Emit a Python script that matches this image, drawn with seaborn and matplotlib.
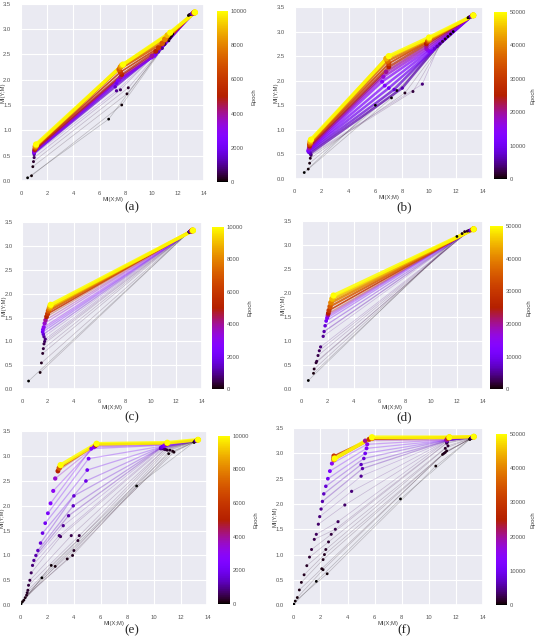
import numpy as np
import pandas as pd
import matplotlib
matplotlib.use("Agg")
import matplotlib.pyplot as plt
import seaborn as sns

# ---------------- data ----------------
# Panel (a): max epoch 10000, 4 layers (l1 = closest to input)
epochs_a = [0, 50, 150, 300, 600, 1000, 1500, 2000, 2500, 3000, 4000, 5000, 6000, 7000, 8000, 9000, 10000]
a_l4_x = [0.5, 0.8, 0.9, 0.95, 1.0, 1.0, 1.0, 1.0, 1.0, 1.0, 1.05, 1.05, 1.1, 1.1, 1.1, 1.15, 1.15]
a_l4_y = [0.06, 0.1, 0.28, 0.38, 0.46, 0.52, 0.55, 0.56, 0.57, 0.58, 0.6, 0.62, 0.64, 0.66, 0.68, 0.7, 0.72]
a_l3_x = [6.7, 7.7, 8.1, 8.2, 7.6, 7.3, 7.2, 7.3, 7.4, 7.5, 7.6, 7.7, 7.6, 7.5, 7.6, 7.7, 7.8]
a_l3_y = [1.22, 1.5, 1.72, 1.84, 1.8, 1.78, 1.86, 1.93, 1.98, 2.0, 2.05, 2.1, 2.15, 2.2, 2.25, 2.28, 2.3]
a_l2_x = [11.6, 11.5, 11.4, 11.3, 11.0, 10.8, 10.5, 10.3, 10.2, 10.0, 10.0, 10.3, 10.5, 10.8, 11.0, 11.2, 11.4]
a_l2_y = [2.9, 2.86, 2.82, 2.77, 2.7, 2.62, 2.55, 2.5, 2.47, 2.44, 2.47, 2.56, 2.63, 2.72, 2.8, 2.88, 2.93]
a_l1_x = [12.8, 12.85, 12.9, 12.95, 13.0, 13.05, 13.1, 13.1, 13.15, 13.15, 13.2, 13.2, 13.2, 13.25, 13.25, 13.3, 13.3]
a_l1_y = [3.27, 3.28, 3.29, 3.29, 3.3, 3.3, 3.3, 3.31, 3.31, 3.31, 3.32, 3.32, 3.32, 3.32, 3.33, 3.33, 3.33]

# Panel (b): max epoch 50000, 4 layers
epochs_b = [0, 200, 500, 1000, 2000, 4000, 6000, 8000, 10000, 12000, 14000, 17000, 20000, 25000, 32000, 38000, 44000, 50000]
b_l4_x = [0.7, 1.0, 1.1, 1.15, 1.2, 1.2, 1.15, 1.05, 1.0, 1.0, 1.05, 1.05, 1.1, 1.1, 1.1, 1.15, 1.15, 1.2]
b_l4_y = [0.13, 0.2, 0.32, 0.42, 0.48, 0.5, 0.52, 0.54, 0.56, 0.58, 0.6, 0.62, 0.64, 0.67, 0.7, 0.73, 0.76, 0.8]
b_l3_x = [6.0, 7.2, 7.6, 8.2, 8.8, 9.5, 8.0, 7.4, 7.0, 6.7, 6.5, 6.6, 6.8, 7.0, 7.0, 6.9, 6.8, 7.0]
b_l3_y = [1.5, 1.65, 1.8, 1.75, 1.78, 1.93, 1.85, 1.82, 1.85, 1.9, 1.98, 2.08, 2.18, 2.28, 2.35, 2.4, 2.45, 2.5]
b_l2_x = [11.8, 11.6, 11.4, 11.2, 11.0, 10.8, 10.6, 10.4, 10.2, 10.0, 9.9, 9.8, 9.8, 9.8, 9.9, 10.0, 10.0, 10.0]
b_l2_y = [3.0, 2.95, 2.9, 2.85, 2.8, 2.75, 2.7, 2.65, 2.6, 2.6, 2.62, 2.65, 2.7, 2.75, 2.8, 2.82, 2.85, 2.88]
b_l1_x = [12.9, 12.95, 13.0, 13.0, 13.05, 13.1, 13.1, 13.15, 13.15, 13.2, 13.2, 13.2, 13.25, 13.25, 13.25, 13.3, 13.3, 13.3]
b_l1_y = [3.28, 3.29, 3.29, 3.3, 3.3, 3.3, 3.31, 3.31, 3.31, 3.32, 3.32, 3.32, 3.32, 3.33, 3.33, 3.33, 3.33, 3.33]

# Panel (c): max epoch 10000, 2 layers
epochs_c = [0, 100, 200, 300, 400, 500, 600, 800, 1000, 1500, 2000, 2500, 3000, 3500, 4000, 5000, 6000, 7000, 8000, 9000, 10000]
c_l2_x = [0.5, 1.4, 1.5, 1.6, 1.65, 1.7, 1.75, 1.8, 1.7, 1.65, 1.6, 1.62, 1.68, 1.75, 1.82, 1.9, 1.98, 2.05, 2.12, 2.18, 2.22]
c_l2_y = [0.17, 0.35, 0.55, 0.75, 0.85, 0.95, 1.0, 1.05, 1.1, 1.15, 1.2, 1.25, 1.3, 1.38, 1.45, 1.52, 1.58, 1.64, 1.69, 1.73, 1.77]
c_l1_x = [13.0, 13.0, 13.0, 13.0, 13.0, 13.05, 13.05, 13.05, 13.1, 13.1, 13.1, 13.15, 13.15, 13.15, 13.2, 13.2, 13.2, 13.25, 13.25, 13.3, 13.3]
c_l1_y = [3.3, 3.3, 3.3, 3.3, 3.3, 3.3, 3.3, 3.31, 3.31, 3.31, 3.31, 3.31, 3.32, 3.32, 3.32, 3.32, 3.32, 3.33, 3.33, 3.33, 3.33]

# Panel (d): max epoch 50000, 2 layers
epochs_d = [0, 500, 1000, 1500, 2000, 2500, 3000, 4000, 5000, 6000, 8000, 10000, 13000, 16000, 20000, 25000, 30000, 35000, 40000, 45000, 50000]
d_l2_x = [0.5, 0.9, 0.95, 1.1, 1.15, 1.25, 1.35, 1.45, 1.65, 1.72, 1.8, 1.88, 1.95, 2.0, 2.02, 2.05, 2.1, 2.18, 2.25, 2.35, 2.45]
d_l2_y = [0.18, 0.33, 0.42, 0.55, 0.58, 0.7, 0.8, 0.88, 1.1, 1.2, 1.32, 1.42, 1.48, 1.52, 1.55, 1.58, 1.64, 1.72, 1.8, 1.88, 1.95]
d_l1_x = [12.0, 12.4, 12.6, 12.8, 12.9, 12.95, 13.0, 13.0, 13.05, 13.05, 13.1, 13.1, 13.15, 13.15, 13.2, 13.2, 13.25, 13.25, 13.3, 13.3, 13.3]
d_l1_y = [3.18, 3.24, 3.28, 3.29, 3.3, 3.3, 3.3, 3.3, 3.31, 3.31, 3.31, 3.31, 3.32, 3.32, 3.32, 3.32, 3.33, 3.33, 3.33, 3.33, 3.33]

# Panel (e): max epoch 10000, 4 layers
epochs_e = [0, 50, 100, 150, 200, 250, 300, 400, 500, 600, 800, 1000, 1200, 1400, 1600, 1800, 2000, 2300, 2600, 3000, 3500, 5000, 7000, 10000]
e_l4_x = [0.05, 0.15, 0.25, 0.35, 0.45, 0.5, 0.55, 0.6, 0.7, 0.8, 0.9, 1.0, 1.15, 1.3, 1.5, 1.65, 1.85, 2.05, 2.25, 2.45, 2.6, 2.8, 2.9, 3.0]
e_l4_y = [0.03, 0.07, 0.1, 0.15, 0.2, 0.25, 0.3, 0.4, 0.5, 0.65, 0.8, 0.9, 1.0, 1.1, 1.25, 1.45, 1.65, 1.85, 2.05, 2.3, 2.55, 2.7, 2.76, 2.82]
e_l3_x = [1.6, 2.3, 2.6, 3.5, 3.9, 4.0, 4.3, 4.4, 3.8, 3.0, 2.9, 3.2, 3.6, 3.95, 4.0, 4.9, 5.0, 5.1, 5.3, 5.5, 5.6, 5.65, 5.7, 5.7]
e_l3_y = [0.55, 0.8, 0.78, 0.93, 1.0, 1.1, 1.3, 1.4, 1.4, 1.38, 1.4, 1.6, 1.8, 2.0, 2.2, 2.5, 2.72, 2.95, 3.15, 3.18, 3.2, 3.22, 3.24, 3.25]
e_l2_x = [8.7, 11.1, 11.5, 11.4, 11.2, 11.0, 10.9, 10.8, 10.8, 10.7, 10.6, 10.5, 10.5, 10.5, 10.6, 10.6, 10.7, 10.8, 10.8, 10.9, 10.9, 11.0, 11.0, 11.0]
e_l2_y = [2.4, 3.05, 3.08, 3.1, 3.12, 3.12, 3.13, 3.14, 3.14, 3.15, 3.15, 3.15, 3.16, 3.17, 3.18, 3.19, 3.2, 3.21, 3.22, 3.23, 3.24, 3.25, 3.26, 3.27]
e_l1_x = [13.0, 13.0, 13.05, 13.05, 13.05, 13.1, 13.1, 13.1, 13.1, 13.15, 13.15, 13.15, 13.15, 13.2, 13.2, 13.2, 13.2, 13.2, 13.25, 13.25, 13.25, 13.3, 13.3, 13.3]
e_l1_y = [3.28, 3.28, 3.29, 3.29, 3.29, 3.3, 3.3, 3.3, 3.3, 3.3, 3.31, 3.31, 3.31, 3.31, 3.31, 3.32, 3.32, 3.32, 3.32, 3.32, 3.33, 3.33, 3.33, 3.33]

# Panel (f): max epoch 50000, 4 layers
epochs_f = [0, 200, 400, 600, 800, 1000, 1300, 1600, 2000, 2500, 3000, 3500, 4000, 5000, 6000, 7000, 8000, 10000, 12000, 15000, 20000, 30000, 40000, 50000]
f_l4_x = [0.05, 0.15, 0.3, 0.45, 0.6, 0.8, 1.0, 1.2, 1.35, 1.55, 1.7, 1.85, 1.95, 2.05, 2.15, 2.25, 2.4, 2.55, 2.7, 2.85, 2.95, 3.0, 3.0, 3.05]
f_l4_y = [0.02, 0.08, 0.15, 0.3, 0.45, 0.6, 0.78, 0.95, 1.1, 1.3, 1.4, 1.6, 1.75, 1.9, 2.05, 2.2, 2.35, 2.5, 2.65, 2.8, 2.9, 2.95, 2.88, 2.9]
f_l3_x = [1.7, 2.5, 2.2, 2.1, 2.2, 2.3, 2.4, 2.6, 2.8, 3.1, 3.3, 3.8, 4.3, 5.0, 5.1, 5.0, 5.2, 5.3, 5.4, 5.45, 5.3, 5.6, 5.8, 5.8]
f_l3_y = [0.47, 0.62, 0.7, 0.72, 0.9, 1.0, 1.1, 1.25, 1.4, 1.5, 1.65, 1.98, 2.25, 2.55, 2.7, 2.78, 2.9, 3.0, 3.1, 3.18, 3.25, 3.28, 3.3, 3.32]
f_l2_x = [7.9, 10.5, 11.0, 11.2, 11.3, 11.1, 11.2, 11.4, 11.3, 11.35, 11.3, 11.3, 11.3, 11.3, 11.3, 11.3, 11.3, 11.3, 11.3, 11.3, 11.3, 11.4, 11.5, 11.5]
f_l2_y = [2.1, 2.75, 2.98, 3.02, 3.05, 3.0, 3.1, 3.15, 3.2, 3.22, 3.24, 3.24, 3.25, 3.25, 3.25, 3.25, 3.26, 3.26, 3.26, 3.27, 3.27, 3.3, 3.32, 3.32]
f_l1_x = [13.0, 13.0, 13.05, 13.05, 13.05, 13.1, 13.1, 13.1, 13.1, 13.15, 13.15, 13.15, 13.15, 13.2, 13.2, 13.2, 13.2, 13.2, 13.25, 13.25, 13.25, 13.3, 13.3, 13.3]
f_l1_y = [3.28, 3.28, 3.29, 3.29, 3.29, 3.3, 3.3, 3.3, 3.3, 3.3, 3.31, 3.31, 3.31, 3.31, 3.31, 3.32, 3.32, 3.32, 3.32, 3.32, 3.33, 3.33, 3.33, 3.33]

x_ticks = [0, 2, 4, 6, 8, 10, 12, 14]
y_ticks = [0.0, 0.5, 1.0, 1.5, 2.0, 2.5, 3.0, 3.5]
cbar_ticks_10k = [0, 2000, 4000, 6000, 8000, 10000]
cbar_ticks_50k = [0, 10000, 20000, 30000, 40000, 50000]
captions = ["(a)", "(b)", "(c)", "(d)", "(e)", "(f)"]

# ---------------- style ----------------
sns.set_theme(style="darkgrid")
plt.rcParams["font.family"] = ["Liberation Sans", "DejaVu Sans"]
plt.rcParams["axes.edgecolor"] = "white"

W, H = 540, 639
fig = plt.figure(figsize=(W / 100, H / 100), dpi=100)

ax_pos = [
    [0.039, 0.717, 0.339, 0.277],
    [0.546, 0.720, 0.348, 0.269],
    [0.041, 0.391, 0.333, 0.261],
    [0.559, 0.391, 0.335, 0.263],
    [0.038, 0.053, 0.346, 0.272],
    [0.543, 0.053, 0.352, 0.277],
]
cax_pos = [
    [0.402, 0.715, 0.020, 0.268],
    [0.915, 0.720, 0.024, 0.261],
    [0.393, 0.391, 0.022, 0.254],
    [0.907, 0.391, 0.024, 0.255],
    [0.404, 0.055, 0.022, 0.263],
    [0.919, 0.053, 0.020, 0.268],
]
cap_pos = [(0.245, 0.676), (0.749, 0.676), (0.245, 0.347), (0.748, 0.347), (0.245, 0.014), (0.748, 0.014)]
mid_alpha = [0.7, 0.7, 0.35, 0.35, 0.3, 0.3]
mid_lw = [1.6, 1.8, 0.9, 0.9, 0.9, 0.9]

panels = [
    (epochs_a, [(a_l4_x, a_l4_y), (a_l3_x, a_l3_y), (a_l2_x, a_l2_y), (a_l1_x, a_l1_y)], 10000, cbar_ticks_10k),
    (epochs_b, [(b_l4_x, b_l4_y), (b_l3_x, b_l3_y), (b_l2_x, b_l2_y), (b_l1_x, b_l1_y)], 50000, cbar_ticks_50k),
    (epochs_c, [(c_l2_x, c_l2_y), (c_l1_x, c_l1_y)], 10000, cbar_ticks_10k),
    (epochs_d, [(d_l2_x, d_l2_y), (d_l1_x, d_l1_y)], 50000, cbar_ticks_50k),
    (epochs_e, [(e_l4_x, e_l4_y), (e_l3_x, e_l3_y), (e_l2_x, e_l2_y), (e_l1_x, e_l1_y)], 10000, cbar_ticks_10k),
    (epochs_f, [(f_l4_x, f_l4_y), (f_l3_x, f_l3_y), (f_l2_x, f_l2_y), (f_l1_x, f_l1_y)], 50000, cbar_ticks_50k),
]

cmap = plt.get_cmap("gnuplot")
FS = 4.2

for k, (epochs, layers, vmax, cticks) in enumerate(panels):
    ax = fig.add_axes(ax_pos[k])
    rows = []
    for i, ep in enumerate(epochs):
        for j, (lx, ly) in enumerate(layers):
            rows.append({"epoch": ep, "layer": j, "x": lx[i], "y": ly[i]})
    df = pd.DataFrame(rows)
    df["frac"] = df["epoch"] / vmax
    early = df[df["frac"] < 0.12]
    mid = df[(df["frac"] >= 0.12) & (df["frac"] < 0.6)]
    late = df[df["frac"] >= 0.6]

    common = dict(x="x", y="y", hue="epoch", units="epoch", estimator=None, sort=False,
                  palette="gnuplot", hue_norm=(0, vmax), legend=False, ax=ax)
    sns.lineplot(data=early, linewidth=0.5, alpha=0.22, **common)
    sns.lineplot(data=mid, linewidth=mid_lw[k], alpha=mid_alpha[k], **common)
    sns.lineplot(data=late, size="epoch", sizes=(1.2, 2.6), size_norm=(0.6 * vmax, vmax),
                 alpha=0.85, **common)
    sns.scatterplot(data=df, x="x", y="y", hue="epoch", size="epoch", palette="gnuplot",
                    hue_norm=(0, vmax), sizes=(4, 20), size_norm=(0, vmax),
                    linewidth=0, legend=False, ax=ax, zorder=5)

    ax.set_xlim(0, 14)
    ax.set_ylim(0, 3.5)
    ax.set_xticks(x_ticks)
    ax.set_yticks(y_ticks)
    ax.set_xticklabels([str(t) for t in x_ticks])
    ax.set_yticklabels([f"{t:.1f}" for t in y_ticks])
    ax.tick_params(labelsize=FS, pad=1, colors="#555555")
    ax.set_xlabel("MI(X;M)", fontsize=FS, labelpad=1, color="#444444")
    ax.set_ylabel("MI(Y;M)", fontsize=FS, color="#444444")
    ax_w_px = ax_pos[k][2] * W
    ax.yaxis.set_label_coords(-16.0 / ax_w_px, 0.5)
    ax.grid(True, color="white", linewidth=0.8)

    cax = fig.add_axes(cax_pos[k])
    sm = matplotlib.cm.ScalarMappable(norm=matplotlib.colors.Normalize(0, vmax), cmap=cmap)
    cb = fig.colorbar(sm, cax=cax)
    cb.outline.set_visible(False)
    cax.grid(False)
    cb.set_ticks(cticks)
    cb.ax.tick_params(labelsize=FS, length=0, pad=2, colors="#555555")
    cb.set_label("Epoch", fontsize=FS, color="#444444", labelpad=3)

    fig.text(cap_pos[k][0], cap_pos[k][1], captions[k], ha="center", va="center",
             fontsize=9.5, family=["Liberation Serif", "DejaVu Serif"])

fig.savefig("out.png", dpi=100)
